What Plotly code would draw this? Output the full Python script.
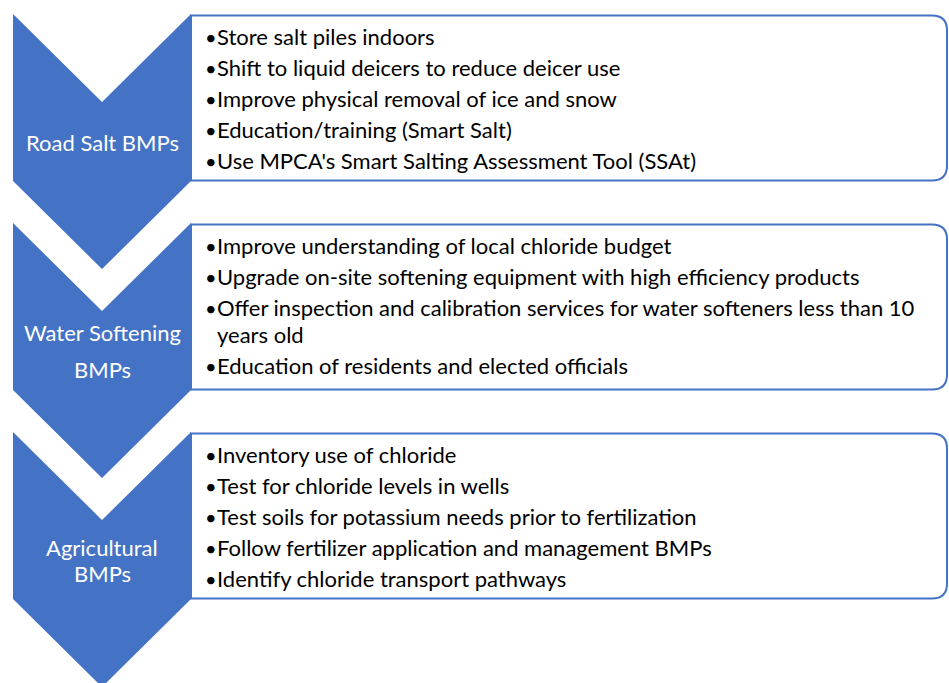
import textwrap
import plotly.graph_objects as go

# ---- data ----
categories = ["Road Salt BMPs", "Water Softening BMPs", "Agricultural BMPs"]
category_lines = [["Road Salt BMPs"], ["Water Softening", "BMPs"], ["Agricultural", "BMPs"]]
road_salt_items = [
    "Store salt piles indoors",
    "Shift to liquid deicers to reduce deicer use",
    "Improve physical removal of ice and snow",
    "Education/training (Smart Salt)",
    "Use MPCA's Smart Salting Assessment Tool (SSAt)",
]
water_softening_items = [
    "Improve understanding of local chloride budget",
    "Upgrade on-site softening equipment with high efficiency products",
    "Offer inspection and calibration services for water softeners less than 10 years old",
    "Education of residents and elected officials",
]
agricultural_items = [
    "Inventory use of chloride",
    "Test for chloride levels in wells",
    "Test soils for potassium needs prior to fertilization",
    "Follow fertilizer application and management BMPs",
    "Identify chloride transport pathways",
]
groups = [road_salt_items, water_softening_items, agricultural_items]

# ---- styling / layout ----
W, H = 949, 683
BLUE = "#4472C4"
FONT = "Lato, Calibri, Carlito, sans-serif"
FS = 22
X_L, X_R = 13, 191          # chevron left / right
HALF = (X_R - X_L) / 2
DEPTH = 88
PITCH = 209
TOP0 = 14
BOX_R = 947
RAD = 15
label_gap = [0, 37, 26]

fig = go.Figure()
shapes = []
annotations = []

for i, (cat_lines, items) in enumerate(zip(category_lines, groups)):
    T = TOP0 + PITCH * i
    B = T + 167
    xm = X_L + HALF
    # chevron
    shapes.append(dict(
        type="path", xref="x", yref="y",
        path=f"M{X_L},{T} L{xm},{T+DEPTH} L{X_R},{T} L{X_R},{B} L{xm},{B+DEPTH} L{X_L},{B} Z",
        fillcolor=BLUE, line=dict(width=0), layer="below"))
    # text box with rounded right corners
    bt, bb = T + 1.5, B - 0.5
    shapes.append(dict(
        type="path", xref="x", yref="y",
        path=(f"M{X_R},{bt} L{BOX_R-RAD},{bt} Q{BOX_R},{bt} {BOX_R},{bt+RAD} "
              f"L{BOX_R},{bb-RAD} Q{BOX_R},{bb} {BOX_R-RAD},{bb} L{X_R},{bb} Z"),
        fillcolor="white", line=dict(color=BLUE, width=2), layer="below"))
    # chevron label
    n = len(cat_lines)
    gap = label_gap[i]
    cy = T + 128
    for k, ln in enumerate(cat_lines):
        y = cy + (k - (n - 1) / 2) * gap
        annotations.append(dict(x=xm, y=y, xref="x", yref="y", text=ln, showarrow=False,
                                xanchor="center", yanchor="middle",
                                font=dict(family=FONT, size=FS, color="white")))
    # bullet items
    y = T + 22.5
    for item in items:
        lines = textwrap.wrap(item, width=76)
        annotations.append(dict(x=203, y=y, xref="x", yref="y", text="•", showarrow=False,
                                xanchor="left", yanchor="middle",
                                font=dict(family=FONT, size=20, color="black")))
        for j, ln in enumerate(lines):
            annotations.append(dict(x=215, y=y, xref="x", yref="y", text=ln, showarrow=False,
                                    xanchor="left", yanchor="middle",
                                    font=dict(family=FONT, size=FS, color="black")))
            if j < len(lines) - 1:
                y += 27
        y += 31

fig.update_layout(
    width=W, height=H, margin=dict(l=0, r=0, t=0, b=0),
    paper_bgcolor="white", plot_bgcolor="white",
    xaxis=dict(range=[0, W], visible=False, fixedrange=True),
    yaxis=dict(range=[H, 0], visible=False, fixedrange=True),
    shapes=shapes, annotations=annotations, showlegend=False,
)
fig.write_html(
    "out.html",
    config={"displayModeBar": False},
    post_script="document.body.style.margin='0';document.body.style.overflow='hidden';",
)
